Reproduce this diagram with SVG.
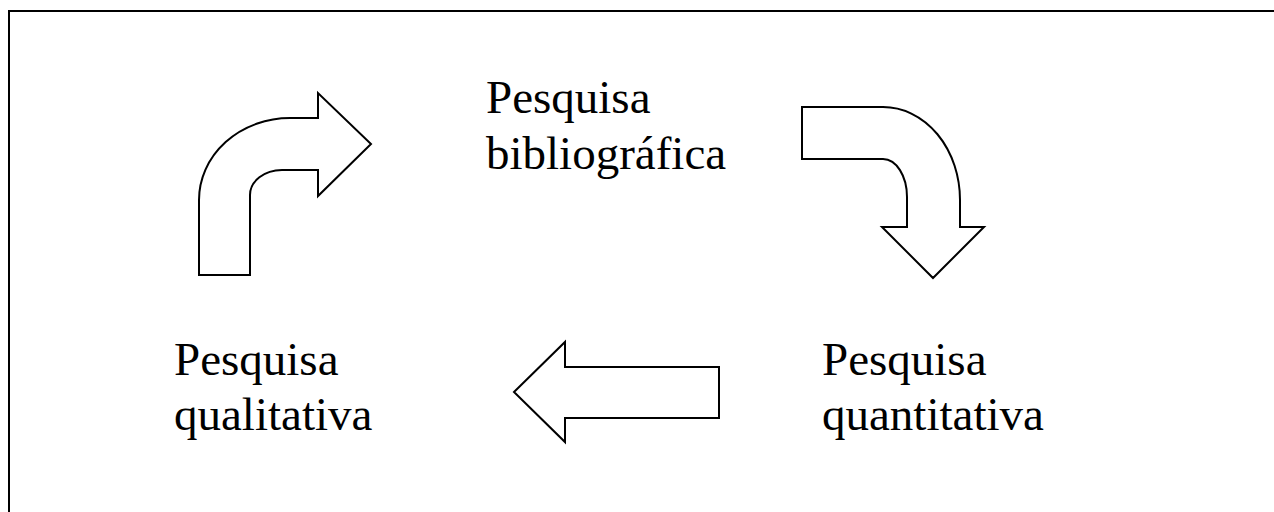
<svg xmlns="http://www.w3.org/2000/svg" width="1274" height="512" viewBox="0 0 1274 512">
<style>
.frame{fill:none;stroke:#000;stroke-width:2}
.arrow{fill:#fff;stroke:#000;stroke-width:2;stroke-linejoin:miter}
.label{font-family:"Liberation Serif","Times New Roman",serif;font-size:47px;fill:#000}
</style>
<rect width="1274" height="512" fill="#fff"/>
<path class="frame" d="M9,520 L9,11 L1280,11"/>
<g id="node-bibliografica">
<text class="label" x="486" y="113">Pesquisa</text>
<text class="label" x="486" y="169">bibliográfica</text>
</g>
<g id="node-quantitativa">
<text class="label" x="822" y="375">Pesquisa</text>
<text class="label" x="822" y="430">quantitativa</text>
</g>
<g id="node-qualitativa">
<text class="label" x="174" y="375">Pesquisa</text>
<text class="label" x="174" y="430">qualitativa</text>
</g>
<g id="connectors">
<path class="arrow" d="M199,275 L199,200 A91,82 0 0 1 290,118 L318,118 L318,93 L371,144 L318,196 L318,170 L282,170 A32,25 0 0 0 250,195 L250,275 Z"/>
<path class="arrow" d="M802,107 L883,107 A77,93 0 0 1 960,200 L960,227 L984,227 L933,278 L882,227 L907,227 L907,197 A24,38 0 0 0 883,159 L802,159 Z"/>
<path class="arrow" d="M514,392 L565,342 L565,367 L719,367 L719,418 L565,418 L565,442 Z"/>
</g>
</svg>
